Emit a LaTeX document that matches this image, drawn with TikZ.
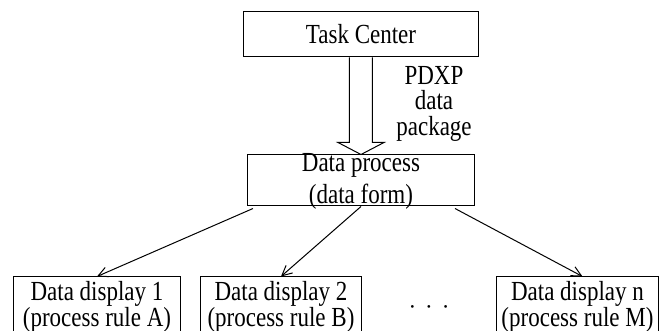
\documentclass[tikz,border=0pt]{standalone}
\usepackage{graphicx}
\usepackage{fontspec}
\setmainfont{Liberation Serif}
\usetikzlibrary{arrows.meta, positioning, calc}
\newcommand{\tl}[1]{\scalebox{1}[1.2]{#1}}
\tikzset{
  block/.style={rectangle, draw=black, line width=0.5pt, inner sep=0pt, text centered, align=center, font=\fontsize{11.5}{13}\selectfont},
  topbox/.style={block, minimum width=117pt, minimum height=22.5pt},
  procbox/.style={block, minimum width=113.5pt, minimum height=25.5pt, text height=24.5pt, text depth=1pt, font=\fontsize{11.5}{16}\selectfont},
  dispbox/.style={block, minimum width=80.5pt, minimum height=30pt},
  arrow/.style={line width=0.5pt,-{Straight Barb[length=5pt,width=5pt]}},
  hollow/.style={line width=0.5pt, fill=white},
  note/.style={align=center, font=\fontsize{11.5}{12.75}\selectfont}
}

\begin{document}
\begin{tikzpicture}
    \clip (-180.5pt,17.25pt) rectangle (149pt,-148.25pt);

    \node (task) [topbox] {\tl{Task Center}};
    \node (proc) [procbox, below=48.5pt of task] {\tl{Data process}\\\tl{(data form)}};
    \node (disp2) [dispbox, below=35pt of proc, xshift=-40pt] {\tl{Data display 2}\\\tl{(process rule B)}};
    \node (disp1) [dispbox, minimum width=83.5pt, left=9.5pt of disp2] {\tl{Data display 1}\\\tl{(process rule A)}};
    \node (disp3) [dispbox, minimum width=81pt, right=67pt of disp2] {\tl{Data display n}\\\tl{(process rule M)}};
    \node (dots) [font=\fontsize{11.5}{13}\selectfont] at ($(disp2.east)!0.5!(disp3.west)+(0,-1.5pt)$) {·\hspace{4.5pt}·\hspace{4.5pt}·};

    % hollow arrow carrying the data package
    \draw[hollow] ([xshift=-5.75pt]task.south) -- ([xshift=-5.75pt,yshift=6pt]proc.north)
      -- ([xshift=-11.5pt,yshift=6pt]proc.north) -- (proc.north)
      -- ([xshift=11.5pt,yshift=6pt]proc.north) -- ([xshift=5.75pt,yshift=6pt]proc.north)
      -- ([xshift=5.75pt]task.south);
    \node (pdxp) [note] at ($(task.south)!0.5!(proc.north)+(36.5pt,1.25pt)$) {\tl{PDXP}\\\tl{data}\\\tl{package}};

    % fan out to the displays
    \draw[arrow] ([xshift=3pt,yshift=-1pt]proc.south west) -- (disp1.north);
    \draw[arrow] (proc.south) -- (disp2.north);
    \draw[arrow] ([xshift=-10pt,yshift=-1pt]proc.south east) -- ([xshift=2.5pt]disp3.north);
\end{tikzpicture}
\end{document}
